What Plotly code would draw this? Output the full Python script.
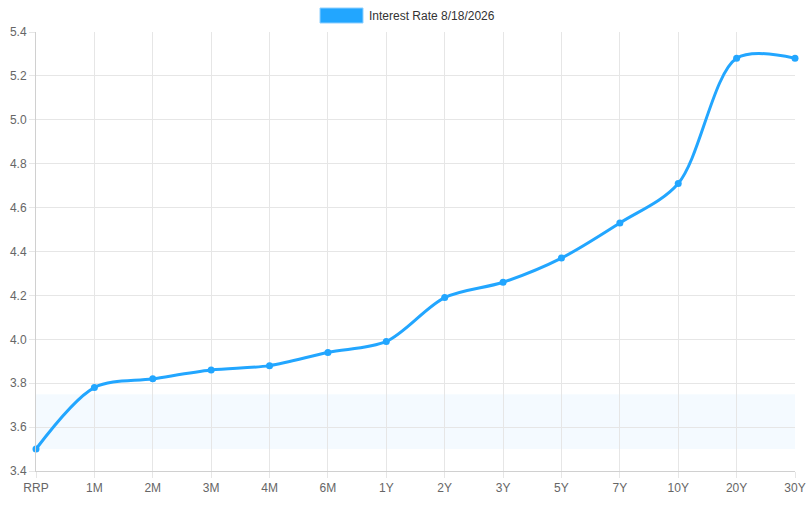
import plotly.graph_objects as go

tenors = ["RRP", "1M", "2M", "3M", "4M", "6M", "1Y", "2Y", "3Y", "5Y", "7Y", "10Y", "20Y", "30Y"]
rates = [3.50, 3.78, 3.82, 3.86, 3.88, 3.94, 3.99, 4.19, 4.26, 4.37, 4.53, 4.71, 5.28, 5.28]
band_low = 3.50
band_high = 3.75
series_name = "Interest Rate 8/18/2026"

blue = "#22a6ff"
grid = "#e6e6e6"

fig = go.Figure()

# light band behind the curve
fig.add_hrect(y0=band_low, y1=band_high, fillcolor="rgba(34,166,255,0.05)",
              line_width=0, layer="below")

fig.add_trace(go.Scatter(
    x=list(range(len(tenors))), y=rates, name=series_name,
    mode="lines+markers",
    line=dict(color=blue, width=3, shape="spline", smoothing=0.9),
    marker=dict(color=blue, size=7),
    cliponaxis=False, showlegend=False,
))

# chart.js style legend box + label (paper coords of the 759x439 plot area)
fig.add_shape(type="rect", xref="paper", yref="paper",
              x0=(320 - 36) / 759, x1=(363 - 36) / 759,
              y0=(471 - 8) / 439, y1=(471 - 23) / 439,
              fillcolor=blue, line=dict(color="#8fd0ff", width=1))
fig.add_annotation(text=series_name, xref="paper", yref="paper",
                   x=(367 - 36) / 759, y=(471 - 15.5) / 439,
                   xanchor="left", yanchor="middle", showarrow=False,
                   font=dict(size=12, color="#333"))

fig.update_layout(
    width=809, height=510,
    margin=dict(l=36, r=14, t=32, b=39, autoexpand=False),
    paper_bgcolor="white", plot_bgcolor="white",
    font=dict(family="Liberation Sans, Arial, sans-serif", size=12, color="#666"),
    xaxis=dict(
        tickmode="array", tickvals=list(range(len(tenors))), ticktext=tenors,
        range=[0, len(tenors) - 1], showgrid=True, gridcolor=grid, gridwidth=1,
        zeroline=False, showline=True, linecolor="#d0d0d0", automargin=False,
        ticks="outside", ticklen=6, tickcolor=grid, fixedrange=True,
    ),
    yaxis=dict(
        range=[3.4, 5.4], dtick=0.2, tickformat=".1f", automargin=False,
        showgrid=True, gridcolor=grid, gridwidth=1, zeroline=False,
        showline=True, linecolor="#d0d0d0",
        ticks="outside", ticklen=6, tickcolor=grid,
    ),
)

# drop the default body margin so the 809x510 figure fills the window
fig.write_html("out.html", config={"displayModeBar": False},
               post_script="document.body.style.margin='0';document.body.style.overflow='hidden';")
